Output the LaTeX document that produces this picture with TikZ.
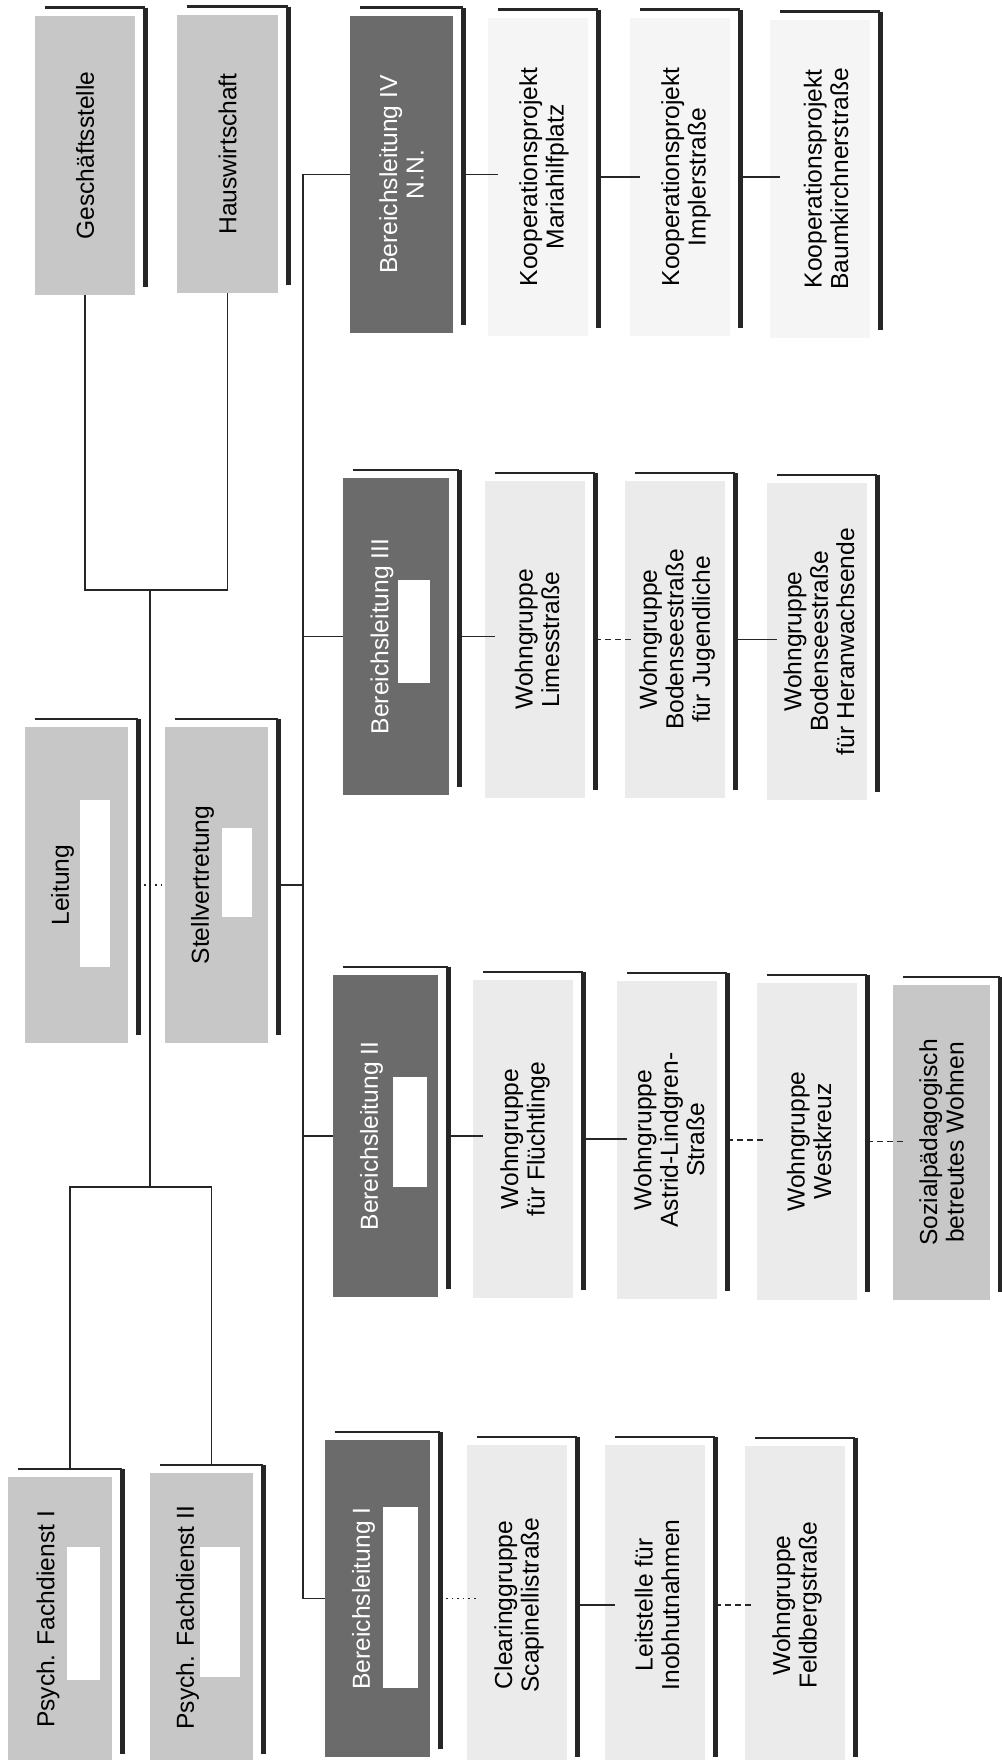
\documentclass[tikz,border=0pt]{standalone}
\usepackage{fontspec}
\setmainfont{Liberation Sans}
\usetikzlibrary{fit}

\colorlet{densefill}{black!22}
\colorlet{sparsefill}{black!8}
\colorlet{faintfill}{black!4}
\colorlet{darkfill}{black!58}

\tikzset{
  conn/.style={line width=0.8pt, black!85},
  frametop/.style={line width=1.1pt, black!85},
  frameside/.style={line width=2.3pt, black!85},
  lbl/.style={rotate=90, align=center, inner sep=0pt,
              font=\fontsize{12.3}{13.2}\selectfont},
}

\begin{document}
\begin{tikzpicture}[x=0.5pt, y=-0.5pt]
\useasboundingbox (0,0) rectangle (1001,1760);

% Boxes (fill corners), with shadow frame on top and right
\foreach \n/\xa/\ya/\xb/\yb/\c in {
  gst/35/16/135/295/densefill, hws/177/15/278/293/densefill,
  lei/25/727/128/1043/densefill, stv/165/727/268/1043/densefill,
  pf1/8/1477/112/1762/densefill, pf2/150/1473/253/1762/densefill,
  bl4/350/16/453/333/darkfill, bl3/343/478/449/795/darkfill,
  bl2/333/975/438/1297/darkfill, bl1/325/1440/430/1757/darkfill,
  kmp/488/18/588/336/faintfill, kip/630/18/730/336/faintfill,
  kbk/770/20/870/338/faintfill,
  wgl/485/481/585/798/sparsefill, wbj/625/481/725/798/sparsefill,
  wbh/767/483/867/800/sparsefill,
  wgf/473/980/573/1298/sparsefill, wal/617/981/717/1299/sparsefill,
  wwk/757/983/857/1300/sparsefill, sbw/893/985/990/1300/densefill,
  clr/467/1445/567/1765/sparsefill, lst/605/1445/705/1765/sparsefill,
  wfb/745/1446/845/1765/sparsefill}
{
  \node[fill=\c, inner sep=0pt, fit={(\xa,\ya) (\xb,\yb)}] (\n) {};
  \draw[frametop] ([shift={(5pt,4pt)}]\n.north west) -- ([shift={(5pt,4pt)}]\n.north east);
  \draw[frameside] ([shift={(5pt,4pt)}]\n.north east) -- ([shift={(5pt,4pt)}]\n.south east);
}

% Blank name fields
\foreach \xa/\ya/\xb/\yb in {80/800/110/967, 222/828/252/917,
  398/580/430/683, 393/1077/427/1187, 383/1507/418/1688,
  67/1547/100/1680, 200/1547/240/1677}
  \fill[white] (\xa,\ya) rectangle (\xb,\yb);

% Labels
\foreach \n/\d/\t in {gst/0/Geschäftsstelle, hws/0/Hauswirtschaft,
  lei/-7/Leitung, stv/-7/Stellvertretung,
  pf1/-6/Psych. Fachdienst I, pf2/-7/Psych. Fachdienst II,
  kmp/3/{Kooperationsprojekt\\Mariahilfplatz},
  kip/3/{Kooperationsprojekt\\Implerstraße},
  kbk/3/{Kooperationsprojekt\\Baumkirchnerstraße},
  wgl/1/{Wohngruppe\\Limesstraße},
  wbj/1/{Wohngruppe\\Bodenseestraße\\für Jugendliche},
  wbh/1/{Wohngruppe\\Bodenseestraße\\für Heranwachsende},
  wgf/1/{Wohngruppe\\für Flüchtlinge},
  wal/1/{Wohngruppe\\Astrid-Lindgren-\\Straße},
  wwk/1/{Wohngruppe\\Westkreuz},
  sbw/0/{Sozialpädagogisch\\betreutes Wohnen},
  clr/1/{Clearinggruppe\\Scapinellistraße},
  lst/1/{Leitstelle für\\Inobhutnahmen},
  wfb/1/{Wohngruppe\\Feldbergstraße}}
  \node[lbl] (\n-t) at ([xshift=\d pt]\n.center) {\t};
\foreach \n/\d/\t in {bl4/0/{Bereichsleitung IV\\N.N.},
  bl3/-7/Bereichsleitung III, bl2/-7/Bereichsleitung II,
  bl1/-7/Bereichsleitung I}
  \node[lbl, text=white] (\n-t) at ([xshift=\d pt]\n.center) {\t};

% Junctions
\coordinate (topj) at (150,590);
\coordinate (botj) at (150,1187);
\coordinate (spine) at (303,0);

% Staff lines
\draw[conn] (gst.south) |- (topj) -| (hws.south);
\draw[conn] (topj) -- (botj);
\draw[conn] ([shift={(5pt,4pt)}]pf1.north) |- (botj) -| ([shift={(5pt,4pt)}]pf2.north);
\draw[conn, dotted] ([xshift=5pt]lei.east) -- (stv.west);
\draw[conn] ([xshift=5pt]stv.east) -- (stv.east -| spine);

% Bereichsleitungen
\draw[conn] (bl4.west -| spine) -- (bl1.west -| spine);
\foreach \b in {bl1,bl2,bl3,bl4}
  \draw[conn] (\b.west -| spine) -- (\b.west);

% Einrichtungen
\foreach \a/\b in {bl4/kmp, kmp/kip, kip/kbk, bl3/wgl, wbj/wbh,
  bl2/wgf, wgf/wal, clr/lst}
  \draw[conn] ([xshift=5pt]\a.east) -- ([xshift=5pt]\a.east -| \b.west);
\foreach \a/\b in {wgl/wbj, wal/wwk, wwk/sbw, lst/wfb}
  \draw[conn, densely dashed] ([xshift=5pt]\a.east) -- ([xshift=5pt]\a.east -| \b.west);
\draw[conn, dotted] ([xshift=5pt]bl1.east) -- ([xshift=5pt]bl1.east -| clr.west);
\end{tikzpicture}
\end{document}
